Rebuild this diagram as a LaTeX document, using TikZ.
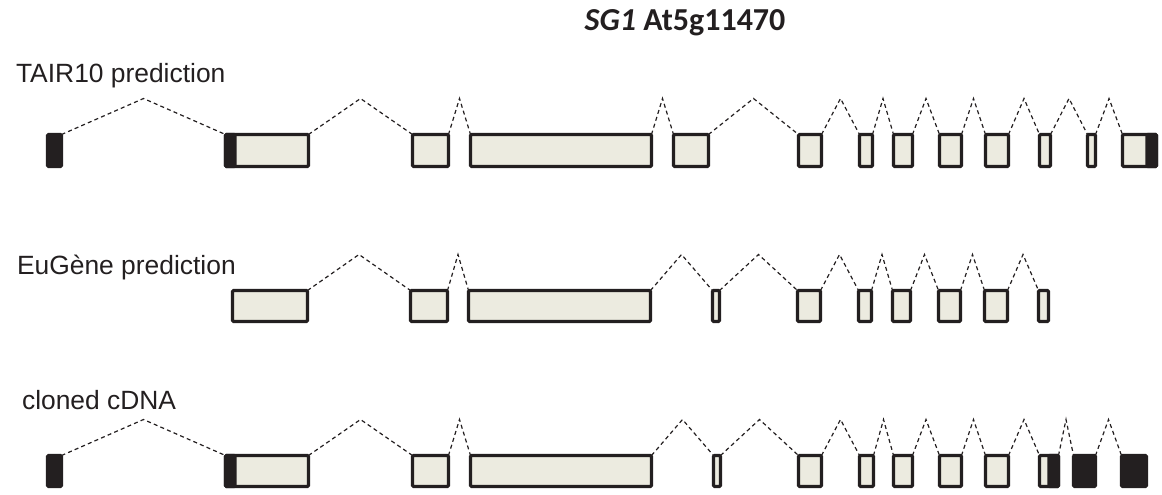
\documentclass[tikz,border=0pt]{standalone}
\usepackage{fontspec}
\setmainfont{Liberation Sans}
\newfontfamily\titlefont{Carlito}
\usepackage{tikz}
\usetikzlibrary{calc,fit}
\definecolor{cInk}{RGB}{35,31,32}
\definecolor{cExon}{RGB}{236,235,224}

\begin{document}
\begin{tikzpicture}[x=0.5pt,y=-0.5pt,
  box/.style={draw=cInk,line width=1.6pt,inner sep=0pt,outer sep=0pt,rounded corners=0.6pt},
  exon/.style={box,fill=cExon},
  utr/.style={box,fill=cInk},
  intron/.style={cInk,line width=0.6pt,dash pattern=on 2pt off 1.6pt},
  lab/.style={anchor=base west,font=\fontsize{13.2}{15}\selectfont,text=cInk}]
  \useasboundingbox (0,0) rectangle (1162,494);
  % title
  \node[anchor=base,font=\titlefont\bfseries\fontsize{16}{18}\selectfont,text=cInk] (title) at (685,30) {\textit{SG1} At5g11470};
  % row labels
  \node[lab] (lTair) at (9,82) {TAIR10 prediction};
  \node[lab] (lEug) at (10,274) {EuG\`ene prediction};
  \node[lab] (lCdna) at (15,409) {cloned cDNA};
  % TAIR10 model
  \foreach \l/\r/\k [count=\i] in {46/63/utr,224/310/exon,411/450/exon,469/653/exon,672/710/exon,
      797/823/exon,858/874/exon,892/914/exon,938/963/exon,984/1010/exon,1038/1052/exon,1086/1097/exon,1121/1158/exon}
    \node[\k,fit={(\l+1.5,134.5) (\r-1.5,166.5)}] (t\i) {};
  \node[utr,fit={(225.5,134.5) (235,166.5)}] (t2u) {};
  \node[utr,fit={(1147,134.5) (1156.5,166.5)}] (t13u) {};
  \foreach \i [evaluate=\i as \j using int(\i+1)] in {1,...,12}
    \draw[intron] (t\i.north east) -- ($(t\i.north east)!.5!(t\j.north west)+(0,-36)$) -- (t\j.north west);
  % EuGene model
  \foreach \l/\r [count=\i] in {231/309,409/449,467/652,711/721,796/822,857/873,891/912,937/962,983/1009,1037/1050}
    \node[exon,fit={(\l+1.5,290.5) (\r-1.5,321.5)}] (e\i) {};
  \foreach \i [evaluate=\i as \j using int(\i+1)] in {1,...,9}
    \draw[intron] (e\i.north east) -- ($(e\i.north east)!.5!(e\j.north west)+(0,-36)$) -- (e\j.north west);
  % cloned cDNA
  \foreach \l/\r/\k [count=\i] in {46/63/utr,224/310/exon,411/450/exon,469/653/exon,712/722/exon,797/823/exon,
      858/875/exon,892/914/exon,938/963/exon,984/1010/exon,1038/1060/exon,1072/1097/utr,1120/1148/utr}
    \node[\k,fit={(\l+1.5,455.5) (\r-1.5,486.5)}] (c\i) {};
  \node[utr,fit={(225.5,455.5) (235,486.5)}] (c2u) {};
  \node[utr,fit={(1049,455.5) (1058.5,486.5)}] (c11u) {};
  \foreach \i [evaluate=\i as \j using int(\i+1)] in {1,...,12}
    \draw[intron] (c\i.north east) -- ($(c\i.north east)!.5!(c\j.north west)+(0,-36)$) -- (c\j.north west);
\end{tikzpicture}
\end{document}
